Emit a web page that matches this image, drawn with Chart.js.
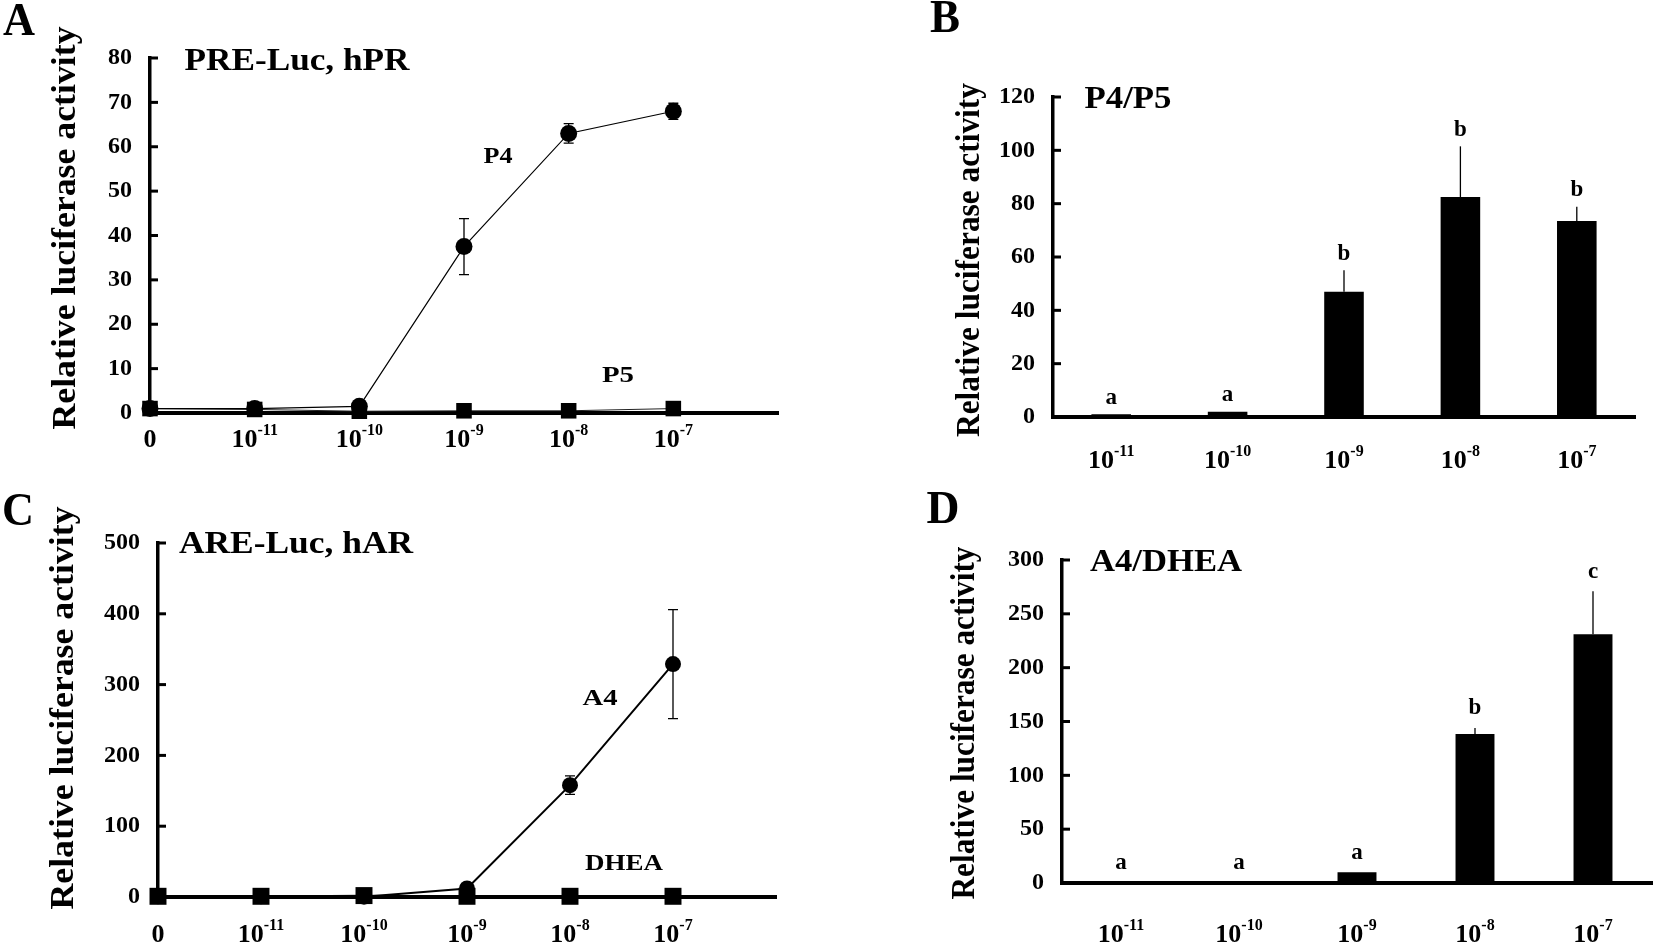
<!DOCTYPE html>
<html>
<head>
<meta charset="utf-8">
<script src="https://cdn.jsdelivr.net/npm/chart.js@4.4.1/dist/chart.umd.min.js"></script>
<style>
  html, body { margin: 0; padding: 0; background: #fff; }
  #wrap { position: relative; width: 1654px; height: 943px; }
  #wrap canvas { position: absolute; left: 0; top: 0; }
</style>
</head>
<body>
<div id="wrap">
  <canvas id="panelA" width="1654" height="943"></canvas>
  <canvas id="panelB" width="1654" height="943"></canvas>
  <canvas id="panelC" width="1654" height="943"></canvas>
  <canvas id="panelD" width="1654" height="943"></canvas>
</div>
<script>
// dose labels (base + superscript exponent)
var doseLineBase = ['0', '10', '10', '10', '10', '10'];
var doseLineExp  = ['', '-11', '-10', '-9', '-8', '-7'];
var doseBarBase  = ['10', '10', '10', '10', '10'];
var doseBarExp   = ['-11', '-10', '-9', '-8', '-7'];

// A: PRE-Luc, hPR
var p4    = [1, 1, 1.5, 37.5, 63, 68];
var p4Err = [0, 0, 0, 6.3, 2.2, 1.8];
var p5    = [1, 0.8, 0.4, 0.5, 0.5, 1];

// B: P4/P5 ratio
var ratioPR    = [1, 2, 47, 82.5, 73.5];
var ratioPRErr = [0, 0, 8, 19, 5.3];
var ratioPRSig = ['a', 'a', 'b', 'b', 'b'];

// C: ARE-Luc, hAR
var a4    = [1, 1, 0.5, 12, 158, 329];
var a4Err = [0, 0, 0, 0, 13, 77];
var dhea  = [1, 1, 2, 1, 1, 1];

// D: A4/DHEA ratio
var ratioAR    = [0.4, 0.6, 10, 138.5, 231];
var ratioARErr = [0, 0, 0, 5.5, 40];
var ratioARSig = ['a', 'a', 'a', 'b', 'c'];

// y axis ranges
var yMaxA = 80,  yStepA = 10;
var yMaxB = 120, yStepB = 20;
var yMaxC = 500, yStepC = 100;
var yMaxD = 300, yStepD = 50;

var SERIF = '"Liberation Serif", "Times New Roman", serif';
var yLabel = 'Relative luciferase activity';

function fitText(ctx, txt, cx, cy, size, w, rot) {
  ctx.save();
  ctx.font = 'bold ' + size + 'px ' + SERIF;
  ctx.textAlign = 'center';
  ctx.textBaseline = 'middle';
  ctx.translate(cx, cy);
  if (rot) ctx.rotate(-Math.PI / 2);
  var m = ctx.measureText(txt).width;
  if (w) ctx.scale(w / m, 1);
  ctx.fillText(txt, 0, 0);
  ctx.restore();
}

function doseLabels(ctx, xs, bases, exps, y, isCat) {
  bases.forEach(function (b, i) {
    var x = isCat ? xs.getPixelForTick(i) : xs.getPixelForValue(i);
    ctx.font = 'bold 26px ' + SERIF;
    var w1 = ctx.measureText(b).width;
    ctx.font = 'bold 16px ' + SERIF;
    var w2 = exps[i] ? ctx.measureText(exps[i]).width : 0;
    var x0 = x - (w1 + w2) / 2;
    ctx.textAlign = 'left';
    ctx.textBaseline = 'alphabetic';
    ctx.font = 'bold 26px ' + SERIF;
    ctx.fillText(b, x0, y + 9);
    if (exps[i]) {
      ctx.font = 'bold 16px ' + SERIF;
      ctx.fillText(exps[i], x0 + w1, y - 3);
    }
  });
}

function panelPlugin(p) {
  return {
    id: 'deco' + p.letter,
    afterDatasetsDraw: function (chart) {
      var ctx = chart.ctx, xs = chart.scales.x, ys = chart.scales.y;
      ctx.save();
      ctx.strokeStyle = '#000';
      ctx.fillStyle = '#000';
      // error bars
      (p.errs || []).forEach(function (e) {
        e.vals.forEach(function (v, i) {
          var sd = e.sd[i];
          if (!sd) return;
          var x = e.cat ? xs.getPixelForTick(i) : xs.getPixelForValue(i);
          var yTop = ys.getPixelForValue(v + sd);
          var yBot = e.cat ? ys.getPixelForValue(v) : ys.getPixelForValue(v - sd);
          ctx.lineWidth = 1.3;
          ctx.beginPath();
          ctx.moveTo(x, yBot); ctx.lineTo(x, yTop);
          if (!e.cat) {
            ctx.moveTo(x - 5, yTop); ctx.lineTo(x + 5, yTop);
            ctx.moveTo(x - 5, yBot); ctx.lineTo(x + 5, yBot);
          }
          ctx.stroke();
        });
      });
      // significance letters
      if (p.sig) {
        p.sig.letters.forEach(function (s, i) {
          var x = xs.getPixelForTick(i);
          var y = ys.getPixelForValue(p.sig.vals[i] + p.sig.sd[i]) - p.sig.gap;
          ctx.font = 'bold 23px ' + SERIF;
          ctx.textAlign = 'center';
          ctx.textBaseline = 'bottom';
          ctx.fillText(s, x, y);
        });
      }
      ctx.restore();
    },
    afterDraw: function (chart) {
      var ctx = chart.ctx, xs = chart.scales.x, ys = chart.scales.y;
      ctx.save();
      ctx.strokeStyle = '#000';
      ctx.fillStyle = '#000';
      // inward tick marks on y axis
      ctx.lineWidth = 3;
      ys.ticks.forEach(function (t) {
        if (t.value === ys.min) return;
        var y = ys.getPixelForValue(t.value);
        ctx.beginPath();
        ctx.moveTo(ys.right, y);
        ctx.lineTo(ys.right + 8, y);
        ctx.stroke();
      });
      doseLabels(ctx, xs, p.doseBase, p.doseExp, xs.top + p.labelOff, p.cat);
      fitText(ctx, p.letter, p.letterPos[0], p.letterPos[1], 46, p.letterPos[2]);
      fitText(ctx, yLabel, p.yTitle[0], p.yTitle[1], 33, p.yTitle[2], true);
      fitText(ctx, p.title[0], p.title[1], p.title[2], 32, p.title[3]);
      (p.notes || []).forEach(function (n) {
        fitText(ctx, n[0], n[1], n[2], 24, n[3]);
      });
      ctx.restore();
    }
  };
}

function makePanel(id, type, datasets, labels, yMax, yStep, area, deco) {
  var xScale = type === 'line'
    ? { type: 'linear', min: 0, max: 6 }
    : { type: 'category' };
  xScale.ticks = { display: false };
  xScale.grid = { display: false, drawTicks: false };
  xScale.border = { display: true, width: 4, color: '#000' };
  xScale.afterFit = function (s) { s.height = 20; };

  return new Chart(document.getElementById(id).getContext('2d'), {
    type: type,
    data: { labels: labels, datasets: datasets },
    options: {
      responsive: false,
      animation: false,
      devicePixelRatio: 1,
      layout: {
        padding: {
          left: area[0] - 100,
          top: area[1],
          right: 1654 - area[2],
          bottom: 943 - area[3] - 20
        }
      },
      plugins: { legend: { display: false }, tooltip: { enabled: false } },
      scales: {
        x: xScale,
        y: {
          min: 0, max: yMax,
          ticks: { stepSize: yStep, color: '#000', padding: 18,
                   font: { family: SERIF, size: 24, weight: 'bold' } },
          grid: { display: false, drawTicks: false },
          border: { display: true, width: 3.5, color: '#000' },
          afterFit: function (s) { s.width = 100; }
        }
      }
    },
    plugins: [panelPlugin(deco)]
  });
}

function pts(arr) { return arr.map(function (v, i) { return { x: i, y: v }; }); }

// Panel A
makePanel('panelA', 'line', [
  { data: pts(p4), borderColor: '#000', borderWidth: 1.2, pointStyle: 'circle',
    pointRadius: 8.5, pointBackgroundColor: '#000', pointBorderWidth: 0, clip: false },
  { data: pts(p5), borderColor: '#222', borderWidth: 1, pointStyle: 'rect',
    pointRadius: 11, pointBackgroundColor: '#000', pointBorderWidth: 0, clip: false }
], null, yMaxA, yStepA, [150, 58, 778, 413], {
  letter: 'A', letterPos: [19, 23, 32],
  yTitle: [66, 228, 403], title: ['PRE-Luc, hPR', 297, 62, 225],
  notes: [['P4', 498, 157, 29], ['P5', 618, 376, 32]],
  doseBase: doseLineBase, doseExp: doseLineExp, labelOff: 25, cat: false,
  errs: [{ vals: p4, sd: p4Err, cat: false }]
});

// Panel B
makePanel('panelB', 'bar', [
  { data: ratioPR, backgroundColor: '#000', barPercentage: 0.34, categoryPercentage: 1 }
], doseBarExp, yMaxB, yStepB, [1053, 97, 1635, 417], {
  letter: 'B', letterPos: [945, 20, 30],
  yTitle: [970, 260, 354], title: ['P4/P5', 1128, 100, 87],
  doseBase: doseBarBase, doseExp: doseBarExp, labelOff: 42, cat: true,
  errs: [{ vals: ratioPR, sd: ratioPRErr, cat: true }],
  sig: { letters: ratioPRSig, vals: ratioPR, sd: ratioPRErr, gap: 5 }
});

// Panel C
makePanel('panelC', 'line', [
  { data: pts(a4), borderColor: '#000', borderWidth: 2, pointStyle: 'circle',
    pointRadius: 8, pointBackgroundColor: '#000', pointBorderWidth: 0, clip: false },
  { data: pts(dhea), borderColor: '#000', borderWidth: 1.5, pointStyle: 'rect',
    pointRadius: 12, pointBackgroundColor: '#000', pointBorderWidth: 0, clip: false }
], null, yMaxC, yStepC, [158, 543, 776, 897], {
  letter: 'C', letterPos: [18, 513, 32],
  yTitle: [64, 708, 403], title: ['ARE-Luc, hAR', 296, 545, 234],
  notes: [['A4', 600, 699, 35], ['DHEA', 624, 864, 78]],
  doseBase: doseLineBase, doseExp: doseLineExp, labelOff: 36, cat: false,
  errs: [{ vals: a4, sd: a4Err, cat: false }]
});

// Panel D
makePanel('panelD', 'bar', [
  { data: ratioAR, backgroundColor: '#000', barPercentage: 0.33, categoryPercentage: 1 }
], doseBarExp, yMaxD, yStepD, [1062, 560, 1652, 883], {
  letter: 'D', letterPos: [943, 511, 33],
  yTitle: [965, 723, 353], title: ['A4/DHEA', 1166, 563, 152],
  doseBase: doseBarBase, doseExp: doseBarExp, labelOff: 50, cat: true,
  errs: [{ vals: ratioAR, sd: ratioARErr, cat: true }],
  sig: { letters: ratioARSig, vals: ratioAR, sd: ratioARErr, gap: 8 }
});
</script>
</body>
</html>
